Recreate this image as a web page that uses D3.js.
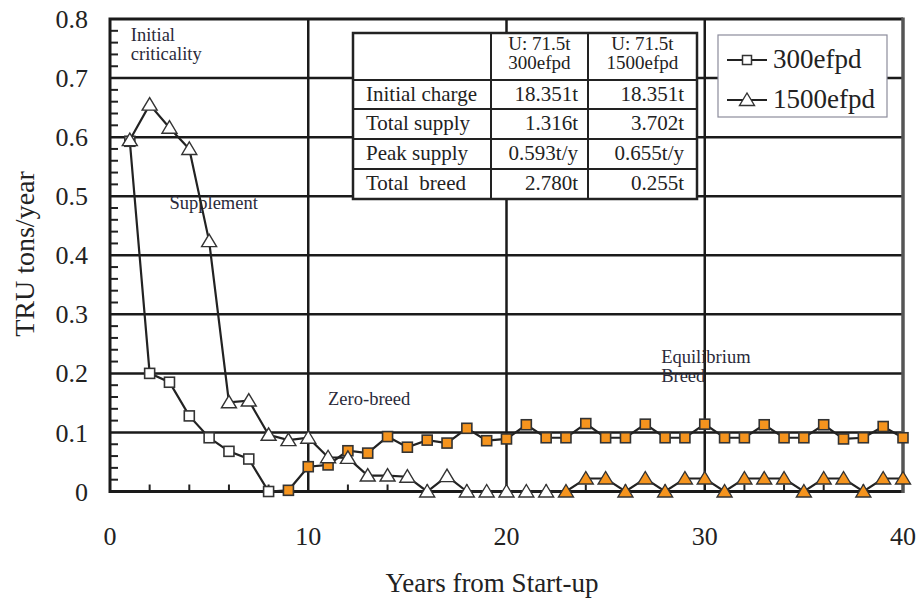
<!DOCTYPE html>
<html><head><meta charset="utf-8">
<script src="https://cdn.jsdelivr.net/npm/d3@7/dist/d3.min.js"></script>
<style>
body{margin:0;background:#fff}
svg{display:block}
</style>
</head><body><svg id="c" width="918" height="600"></svg>
<script>
// ---- data ----
const years = [1,2,3,4,5,6,7,8,9,10,11,12,13,14,15,16,17,18,19,20,21,22,23,24,25,26,27,28,29,30,31,32,33,34,35,36,37,38,39,40];
const supply300 = [0.593,0.200,0.185,0.128,0.091,0.068,0.055,0.000,0.002,0.042,0.045,0.069,0.065,0.093,0.075,0.087,0.082,0.107,0.086,0.089,0.113,0.091,0.091,0.115,0.091,0.091,0.114,0.091,0.091,0.114,0.091,0.091,0.113,0.091,0.091,0.113,0.089,0.091,0.110,0.091];
const supply1500 = [0.595,0.655,0.616,0.580,0.424,0.151,0.154,0.096,0.087,0.091,0.058,0.057,0.027,0.027,0.025,0.000,0.026,0.000,0.000,0.000,0.000,0.000,0.000,0.022,0.022,0.000,0.022,0.000,0.022,0.022,0.000,0.022,0.022,0.022,0.000,0.022,0.022,0.000,0.022,0.022];
const breedStart300 = 9;   // filled (orange) markers from this year
const breedStart1500 = 23;
const xTicks = [0,10,20,30,40];
const yTicks = [0,0.1,0.2,0.3,0.4,0.5,0.6,0.7,0.8];
const yTickLabels = ["0","0.1","0.2","0.3","0.4","0.5","0.6","0.7","0.8"];
const seriesNames = ["300efpd","1500efpd"];
const tableHeader = [["U: 71.5t","300efpd"],["U: 71.5t","1500efpd"]];
const tableRows = ["Initial charge","Total supply","Peak supply","Total  breed"];
const table300 = ["18.351t","1.316t","0.593t/y","2.780t"];
const table1500 = ["18.351t","3.702t","0.655t/y","0.255t"];
const annotations = [
  {lines:["Initial","criticality"], x:1.05, y:0.763},
  {lines:["Supplement"], x:3, y:0.478},
  {lines:["Zero-breed"], x:11, y:0.146},
  {lines:["Equilibrium","Breed"], x:27.8, y:0.217}
];

// ---- layout ----
const FONT = "'Liberation Serif','DejaVu Serif','Times New Roman',serif";
const ORANGE = "#f5941e", INK = "#222";
const svg = d3.select("#c").attr("font-family",FONT);
const x = d3.scaleLinear().domain([0,40]).range([110,903]);
const y = d3.scaleLinear().domain([0,0.8]).range([491.5,19]);

// grid
const g = svg.append("g");
g.selectAll(".hg").data(yTicks.filter(d=>d>0&&d<0.8)).join("line")
  .attr("x1",x(0)).attr("x2",x(40)).attr("y1",d=>y(d)).attr("y2",d=>y(d))
  .attr("stroke","#1a1a1a").attr("stroke-width",2.5);
g.selectAll(".vg").data(xTicks.filter(d=>d>0&&d<40)).join("line")
  .attr("x1",d=>x(d)).attr("x2",d=>x(d)).attr("y1",y(0)).attr("y2",y(0.8))
  .attr("stroke","#1a1a1a").attr("stroke-width",2.5);

// minor ticks
const yMinor = d3.range(1,40).map(i=>i*0.02).filter(v=>Math.abs(v*10-Math.round(v*10))>1e-6);
g.selectAll(".ym").data(yMinor).join("line")
  .attr("x1",x(0)).attr("x2",x(0)+8).attr("y1",d=>y(d)).attr("y2",d=>y(d))
  .attr("stroke",INK).attr("stroke-width",2);
const xMinor = d3.range(1,20).map(i=>i*2).filter(v=>v%10!==0);
g.selectAll(".xm").data(xMinor).join("line")
  .attr("x1",d=>x(d)).attr("x2",d=>x(d)).attr("y1",y(0)).attr("y2",y(0)-7)
  .attr("stroke",INK).attr("stroke-width",2);

// frame
g.append("path").attr("d",`M${x(40)},${y(0.8)}H${x(0)}V${y(0)}H${x(40)}`)
  .attr("fill","none").attr("stroke","#1a1a1a").attr("stroke-width",3);
g.append("line").attr("x1",x(40)).attr("x2",x(40)).attr("y1",y(0.8)-1.5).attr("y2",y(0)+1.5)
  .attr("stroke","#555").attr("stroke-width",3.5);

// tick labels
svg.selectAll(".yl").data(yTicks).join("text")
  .attr("x",88).attr("y",(d)=>y(d)).attr("dy","0.35em").attr("text-anchor","end")
  .attr("font-size",26).attr("fill",INK).text((d,i)=>yTickLabels[i]);
svg.selectAll(".xl").data(xTicks).join("text")
  .attr("x",d=>x(d)).attr("y",545).attr("text-anchor","middle")
  .attr("font-size",26).attr("fill",INK).text(d=>d);

// axis titles
svg.append("text").attr("transform","translate(34,254) rotate(-90)")
  .attr("text-anchor","middle").attr("font-size",28).attr("fill",INK).text("TRU tons/year");
svg.append("text").attr("x",492).attr("y",592).attr("text-anchor","middle")
  .attr("font-size",27).attr("fill",INK).text("Years from Start-up");

// annotations
annotations.forEach(a=>{
  const t = svg.append("text").attr("x",x(a.x)).attr("y",y(a.y)).attr("font-size",18.5).attr("fill","#2a2a3a");
  a.lines.forEach((l,i)=>t.append("tspan").attr("x",x(a.x)).attr("dy",i?19:0).text(l));
});

// table
const tb = svg.append("g");
const tX = [353,491,588,697], tY = [33,80,109,139,169,199];
tb.append("rect").attr("x",tX[0]).attr("y",tY[0]).attr("width",tX[3]-tX[0]).attr("height",tY[5]-tY[0])
  .attr("fill","#fff").attr("stroke",INK).attr("stroke-width",2.5);
tb.selectAll(".tr").data(tY.slice(1,5)).join("line")
  .attr("x1",tX[0]).attr("x2",tX[3]).attr("y1",d=>d).attr("y2",d=>d).attr("stroke",INK).attr("stroke-width",2);
tb.selectAll(".tc").data(tX.slice(1,3)).join("line")
  .attr("x1",d=>d).attr("x2",d=>d).attr("y1",tY[0]).attr("y2",tY[5]).attr("stroke",INK).attr("stroke-width",2);
tableHeader.forEach((h,i)=>{
  const cx = (tX[i+1]+tX[i+2])/2;
  const t = tb.append("text").attr("text-anchor","middle").attr("font-size",19).attr("fill",INK);
  h.forEach((l,j)=>t.append("tspan").attr("x",cx).attr("y",50+j*19).text(l));
});
tableRows.forEach((r,i)=>{
  const by = tY[i+1]+21;
  tb.append("text").attr("x",366).attr("y",by).attr("font-size",21).attr("fill",INK).style("white-space","pre").text(r);
  tb.append("text").attr("x",578).attr("y",by).attr("text-anchor","end").attr("font-size",21).attr("fill",INK).text(table300[i]);
  tb.append("text").attr("x",684).attr("y",by).attr("text-anchor","end").attr("font-size",21).attr("fill",INK).text(table1500[i]);
});

// series
const line = d3.line().x((d,i)=>x(years[i])).y(d=>y(d));
const tri = "M0,-7L7.5,5.5L-7.5,5.5Z";
function drawSquares(sel, vals, start){
  sel.selectAll("rect").data(vals).join("rect")
    .attr("x",(d,i)=>x(years[i])-5).attr("y",d=>y(d)-5).attr("width",10).attr("height",10)
    .attr("fill",(d,i)=>years[i]>=start?ORANGE:"#fff").attr("stroke","#333").attr("stroke-width",1.6);
}
function drawTris(sel, vals, start){
  sel.selectAll("path").data(vals).join("path")
    .attr("d",tri).attr("transform",(d,i)=>`translate(${x(years[i])},${y(d)})`)
    .attr("fill",(d,i)=>years[i]>=start?ORANGE:"#fff").attr("stroke","#333").attr("stroke-width",1.4);
}
svg.append("path").attr("d",line(supply300)).attr("fill","none").attr("stroke",INK).attr("stroke-width",2.2);
drawSquares(svg.append("g"), supply300, breedStart300);
svg.append("path").attr("d",line(supply1500)).attr("fill","none").attr("stroke",INK).attr("stroke-width",2.2);
drawTris(svg.append("g"), supply1500, breedStart1500);

// legend
const lg = svg.append("g");
lg.append("rect").attr("x",718).attr("y",35).attr("width",169).attr("height",82)
  .attr("fill","#fff").attr("stroke","#8c8c9c").attr("stroke-width",1.2);
seriesNames.forEach((n,i)=>{
  const ly = 60 + i*40;
  lg.append("line").attr("x1",727).attr("x2",767).attr("y1",ly).attr("y2",ly).attr("stroke",INK).attr("stroke-width",2.2);
  if(i===0) lg.append("rect").attr("x",742.5).attr("y",ly-4.5).attr("width",9).attr("height",9).attr("fill","#fff").attr("stroke","#333").attr("stroke-width",1.5);
  else lg.append("path").attr("d",tri).attr("transform",`translate(747,${ly})`).attr("fill","#fff").attr("stroke","#333").attr("stroke-width",1.4);
  lg.append("text").attr("x",773).attr("y",ly+8).attr("font-size",27).attr("fill",INK).text(n);
});
</script>
</body></html>
